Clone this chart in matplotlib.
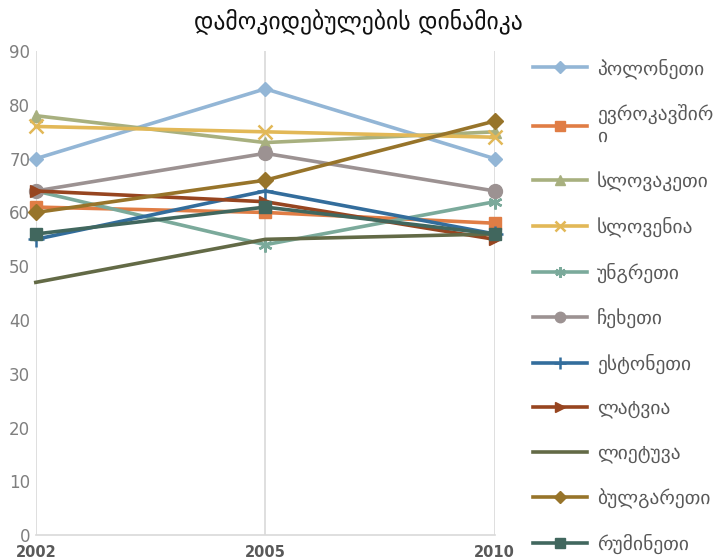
import matplotlib.pyplot as plt
import numpy as np

plt.rcParams['font.family'] = ['DejaVu Sans']

# ---- data ----
years = ['2002', '2005', '2010']
countries = ['პოლონეთი', 'ევროკავშირ\nი', 'სლოვაკეთი', 'სლოვენია', 'უნგრეთი',
             'ჩეხეთი', 'ესტონეთი', 'ლატვია', 'ლიეტუვა', 'ბულგარეთი', 'რუმინეთი']
poland = [70, 83, 70]
eu = [61, 60, 58]
slovakia = [78, 73, 75]
slovenia = [76, 75, 74]
hungary = [64, 54, 62]
czech = [64, 71, 64]
estonia = [55, 64, 56]
latvia = [64, 62, 55]
lithuania = [47, 55, 56]
bulgaria = [60, 66, 77]
romania = [56, 61, 56]
series = [poland, eu, slovakia, slovenia, hungary, czech, estonia, latvia,
          lithuania, bulgaria, romania]

colors = ['#93B6D6', '#E07D45', '#A8B07F', '#E2B857', '#7BAA9B',
          '#9C9292', '#336D9C', '#974520', '#636A46', '#97742A', '#41675E']
markers = ['D', 's', '^', 'x', (6, 2, 0), 'o', '+', '>', None, 'D', 's']
msizes = [7.5, 9, 9, 10, 10, 10, 11, 9, 0, 8, 9]

fig = plt.figure(figsize=(7.16, 5.6), dpi=100)
ax = fig.add_axes([0.050, 0.0446, 0.641, 0.864])

x = np.arange(len(years))
for vals, name, c, m, ms in zip(series, countries, colors, markers, msizes):
    ax.plot(x, vals, color=c, linewidth=2.6, marker=m, markersize=ms,
            markeredgewidth=1.8 if m in ('x', '+', (6, 2, 0)) else 1,
            label=name, clip_on=False, zorder=3)

ax.set_xlim(0, 2)
ax.set_ylim(0, 90)
ax.set_yticks(np.arange(0, 91, 10))
ax.set_xticks(x)
ax.set_xticklabels(years, fontweight='bold', fontsize=10.5, color='#595959')
ax.tick_params(axis='y', labelsize=12, labelcolor='#7f7f7f', length=0, pad=4)
ax.tick_params(axis='x', length=0, pad=7)
ax.grid(axis='x', color='#d9d9d9', linewidth=1.2)
for s in ['top', 'right', 'left']:
    ax.spines[s].set_visible(False)
ax.spines['bottom'].set_color('#d9d9d9')
ax.spines['bottom'].set_linewidth(1.2)

fig.text(0.5, 0.962, 'დამოკიდებულების დინამიკა', ha='center', va='center',
         fontsize=17, color='#111111')

leg = fig.legend(loc='upper left', bbox_to_anchor=(0.733, 0.91), frameon=False,
                 fontsize=14, labelspacing=1.3, handlelength=2.8,
                 handletextpad=0.5, borderaxespad=0, markerscale=0.75)
for t in leg.get_texts():
    t.set_color('#595959')

fig.savefig('out.png', dpi=100)
